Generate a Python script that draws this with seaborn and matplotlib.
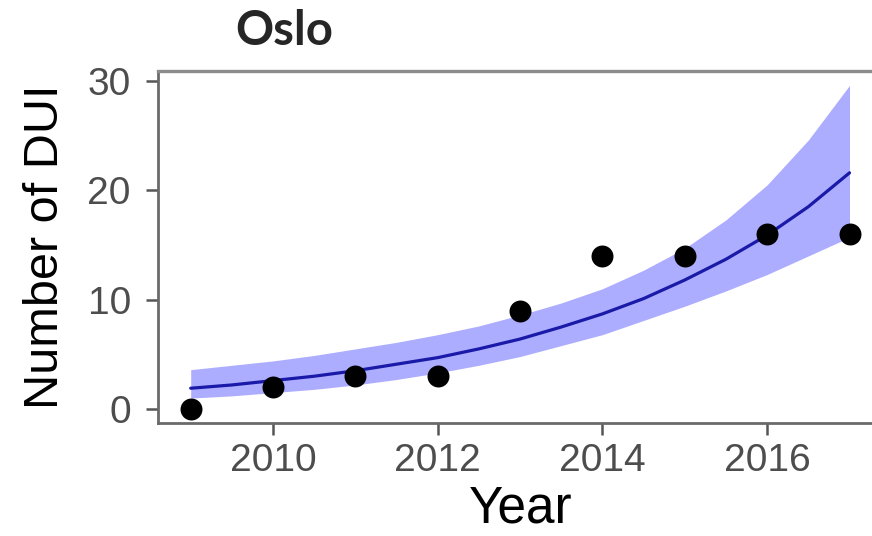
# Oslo DUI counts with a fitted trend and confidence band

import pandas as pd
import matplotlib
matplotlib.use("Agg")
import matplotlib.pyplot as plt
import seaborn as sns

years = [2009, 2010, 2011, 2012, 2013, 2014, 2015, 2016, 2017]
dui_counts = [0, 2, 3, 3, 9, 14, 14, 16, 16]

# fitted curve and its band, every half year
fit_years = [2009, 2009.5, 2010, 2010.5, 2011, 2011.5, 2012, 2012.5, 2013,
             2013.5, 2014, 2014.5, 2015, 2015.5, 2016, 2016.5, 2017]
fit_mid = [1.9, 2.2, 2.6, 3.0, 3.5, 4.1, 4.7, 5.5, 6.4,
           7.5, 8.7, 10.1, 11.8, 13.7, 15.9, 18.5, 21.6]
fit_low = [1.0, 1.2, 1.5, 1.8, 2.2, 2.7, 3.3, 4.0, 4.8,
           5.8, 6.8, 8.1, 9.4, 10.8, 12.3, 14.0, 15.7]
fit_high = [3.6, 4.0, 4.4, 4.9, 5.5, 6.1, 6.8, 7.6, 8.6,
            9.7, 11.0, 12.7, 14.7, 17.3, 20.5, 24.6, 29.6]

x_ticks = [2010, 2012, 2014, 2016]
y_ticks = [0, 10, 20, 30]

points = pd.DataFrame({"Year": years, "DUI": dui_counts})
fit = pd.DataFrame({"Year": fit_years, "fit": fit_mid,
                    "low": fit_low, "high": fit_high})

sns.set_style("ticks")
plt.rcParams["font.family"] = ["Liberation Sans", "DejaVu Sans"]

fig = plt.figure(figsize=(8.72, 5.36), dpi=100)
ax = fig.add_axes([0.1812, 0.2108, 0.8308, 0.6567])

ax.fill_between(fit["Year"], fit["low"], fit["high"], color="blue",
                alpha=0.32, linewidth=0, zorder=1)
sns.lineplot(data=fit, x="Year", y="fit", color="#1a1aa8", linewidth=2.3,
             ax=ax, zorder=2)
sns.scatterplot(data=points, x="Year", y="DUI", color="black", s=250,
                linewidth=0, ax=ax, zorder=3)

ax.set_xlim(2008.603, 2017.4)
ax.set_ylim(-1.28, 30.91)
ax.set_xticks(x_ticks)
ax.set_yticks(y_ticks)

for side in ["left", "bottom"]:
    ax.spines[side].set_color("#6a6a6a")
    ax.spines[side].set_linewidth(2.0)
ax.spines["top"].set_color("#8c8c8c")
ax.spines["top"].set_linewidth(2.4)
ax.spines["right"].set_visible(False)

ax.tick_params(axis="both", length=8.6, width=1.8, color="#555555",
               labelsize=28, labelcolor="#4d4d4d")
ax.tick_params(axis="y", pad=11)
ax.tick_params(axis="x", pad=6)
ax.set_xlabel("Year", fontsize=37, color="black", labelpad=4)
ax.set_ylabel("Number of DUI", fontsize=35, color="black", labelpad=14)

fig.text(0.326, 0.916, "Oslo", fontsize=34, fontweight="bold",
         family=["Lato", "DejaVu Sans"], ha="center", va="baseline")

fig.savefig("out.png", dpi=100)
